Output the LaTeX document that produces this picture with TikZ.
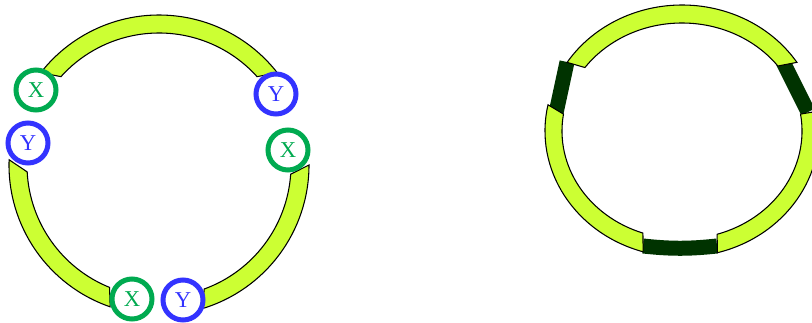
\documentclass[tikz,border=0pt]{standalone}
\usepackage{fontspec}
\setmainfont{Liberation Serif}
\usetikzlibrary{calc}
\definecolor{limefill}{RGB}{204,255,51}
\definecolor{xgreen}{RGB}{0,170,80}
\definecolor{yblue}{RGB}{51,51,255}
\definecolor{darkbar}{RGB}{0,51,0}

\begin{document}
\begin{tikzpicture}[x=0.75pt,y=0.75pt]
        \tikzset{band/.style = {fill=limefill,draw=black,line width=0.8pt}}
        \tikzset{link/.style = {draw=darkbar,line width=11.25pt}}
        \tikzset{site/.style = {shape=circle,draw,line width=3.75pt,minimum size=30pt,inner sep=0pt,fill=white,font=\fontsize{17}{17}\selectfont}}
        \tikzset{xsite/.style = {site,draw=xgreen,text=xgreen}}
        \tikzset{ysite/.style = {site,draw=yblue,text=yblue}}
        \useasboundingbox (0,0) rectangle (812,322);
        \clip (0,0) rectangle (812,322);

        \coordinate (c1) at (159,157);
        \coordinate (c2) at (682,191);

        % left ring
        \path[band] ($(c1)+(142:150)$) arc[start angle=142,end angle=38,radius=150]
            -- ($(c1)+(42:132)$) arc[start angle=42,end angle=138,radius=132] -- cycle;
        \path[band] ($(c1)+(178:150)$) arc[start angle=178,end angle=251,radius=150]
            -- ($(c1)+(248:132)$) arc[start angle=248,end angle=183,radius=132] -- cycle;
        \path[band] ($(c1)+(-73:150)$) arc[start angle=-73,end angle=0,radius=150]
            -- ($(c1)+(-4:132)$) arc[start angle=-4,end angle=-70,radius=132] -- cycle;

        \node[xsite] (x1) at (36,232) {X};
        \node[ysite] (y1) at (28,179) {Y};
        \node[ysite] (y2) at (276,228) {Y};
        \node[xsite] (x2) at (288,172) {X};
        \node[xsite] (x3) at (132,23) {X};
        \node[ysite] (y3) at (183,22) {Y};

        % right ring
        \coordinate (l1) at (567,260);
        \coordinate (l2) at (556,209);
        \coordinate (r1) at (783,260);
        \coordinate (r2) at (808,210);
        \coordinate (b1) at (643,76);
        \coordinate (b2) at (717,76);
        \draw[link] (l1) -- (l2);
        \draw[link] (r1) -- (r2);
        \draw[link] (b1) to[bend right=6] (b2);

        \path[band] ($(c2)+(147:137 and 126)$) arc[start angle=147,end angle=33,x radius=137,y radius=126]
            -- ($(c2)+(37:120 and 108)$) arc[start angle=37,end angle=144,x radius=120,y radius=108] -- cycle;
        \path[band] ($(c2)+(168:137 and 126)$) arc[start angle=168,end angle=253.5,x radius=137,y radius=126]
            -- ($(c2)+(251:120 and 108)$) arc[start angle=251,end angle=171,x radius=120,y radius=108] -- cycle;
        \path[band] ($(c2)+(-75:137 and 126)$) arc[start angle=-75,end angle=9,x radius=137,y radius=126]
            -- ($(c2)+(9:120 and 108)$) arc[start angle=9,end angle=-73,x radius=120,y radius=108] -- cycle;
    \end{tikzpicture}
\end{document}
